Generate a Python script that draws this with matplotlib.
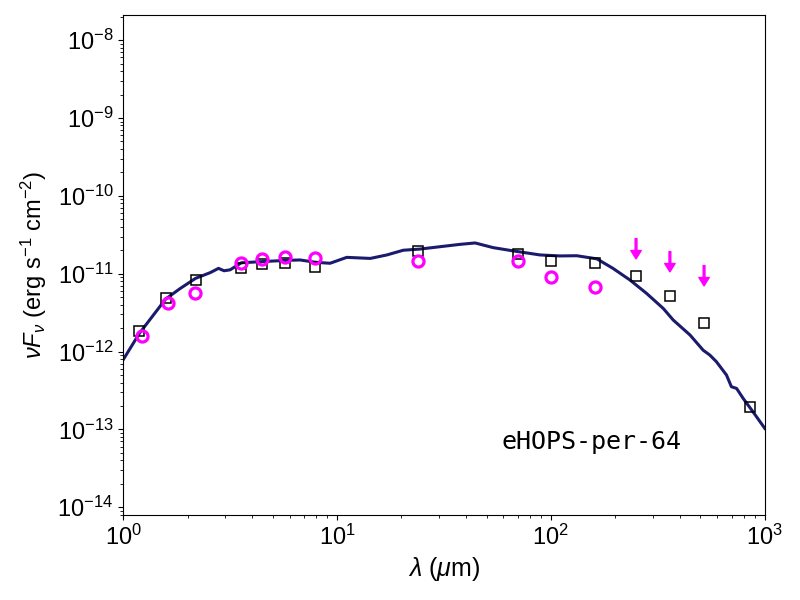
import numpy as np
import matplotlib
matplotlib.use("Agg")
import matplotlib.pyplot as plt

plt.rcParams['font.family'] = ['Liberation Sans', 'DejaVu Sans']
plt.rcParams['mathtext.fontset'] = 'custom'
plt.rcParams['mathtext.rm'] = 'Liberation Sans'
plt.rcParams['mathtext.it'] = 'Liberation Sans:italic'
plt.rcParams['mathtext.bf'] = 'Liberation Sans:bold'

# Model SED (wavelength in micron, nuFnu in erg/s/cm2)
model_lam = [1.0, 1.19, 1.58, 1.85, 2.18, 2.55, 2.79, 2.96, 3.16, 3.57, 4.48, 5.73,
             6.71, 7.93, 9.27, 11.1, 14.3, 17.1, 20.4, 24.4, 30.3, 37.6, 44.2, 53.7,
             66.7, 88.9, 110, 132, 164, 195, 234, 280, 335, 373, 447, 515, 553, 594,
             662, 698, 738, 793, 881, 1000]
model_flux = [7.85e-13, 1.71e-12, 4.73e-12, 6.47e-12, 8.71e-12, 1.03e-11, 1.17e-11,
              1.09e-11, 1.12e-11, 1.38e-11, 1.43e-11, 1.48e-11, 1.50e-11, 1.40e-11,
              1.36e-11, 1.62e-11, 1.57e-11, 1.74e-11, 2.00e-11, 2.07e-11, 2.22e-11,
              2.38e-11, 2.48e-11, 2.16e-11, 1.96e-11, 1.74e-11, 1.69e-11, 1.70e-11,
              1.55e-11, 1.17e-11, 8.30e-12, 5.58e-12, 3.58e-12, 2.54e-12, 1.63e-12,
              1.04e-12, 9.02e-13, 7.40e-13, 4.99e-13, 3.53e-13, 3.36e-13, 2.49e-13,
              1.68e-13, 1.03e-13]

# Model photometry (open squares)
sq_lam = [1.19, 1.58, 2.18, 3.57, 4.48, 5.73, 7.92, 24.0, 70, 100, 160, 250, 360, 520, 850]
sq_flux = [1.83e-12, 4.8e-12, 8.3e-12, 1.19e-11, 1.33e-11, 1.38e-11, 1.22e-11, 1.96e-11,
           1.79e-11, 1.47e-11, 1.37e-11, 9.4e-12, 5.17e-12, 2.32e-12, 1.94e-13]

# Observed photometry (magenta circles)
obs_lam = [1.23, 1.62, 2.17, 3.57, 4.48, 5.73, 7.92, 24.0, 70, 100, 160]
obs_flux = [1.56e-12, 4.15e-12, 5.58e-12, 1.37e-11, 1.53e-11, 1.62e-11, 1.61e-11,
            1.46e-11, 1.44e-11, 9.07e-12, 6.75e-12]

# Upper limits
ul_lam = [250, 360, 520]
ul_flux = [2.82e-11, 1.92e-11, 1.27e-11]

fig = plt.figure(figsize=(8, 6), dpi=100)
ax = fig.add_axes([0.154, 0.142, 0.802, 0.833])

ax.plot(model_lam, model_flux, color='#1b1b6e', lw=2.2, zorder=2)
ax.plot(sq_lam, sq_flux, ls='none', marker='s', ms=6.5, mfc='none', mec='black',
        mew=1.1, zorder=3)
ax.plot(obs_lam, obs_flux, ls='none', marker='o', ms=8, mfc='none', mec='magenta',
        mew=2.3, zorder=4)
for lam, f in zip(ul_lam, ul_flux):
    ax.annotate('', xy=(lam, f * 10**-0.26), xytext=(lam, f),
                arrowprops=dict(facecolor='magenta', edgecolor='magenta',
                                width=1.3, headwidth=7.5, headlength=6, shrink=0))

ax.set_xscale('log')
ax.set_yscale('log')
ax.set_xlim(1, 1000)
ax.set_ylim(8e-15, 2.1e-8)
ax.tick_params(labelsize=17)
ax.set_xlabel(r'$\lambda$ ($\mu$m)', fontsize=18)
ax.set_ylabel(r'$\nu F_\nu$ (erg s$^{-1}$ cm$^{-2}$)', fontsize=17, labelpad=6)
ax.text(0.59, 0.145, 'eHOPS-per-64', transform=ax.transAxes, fontsize=18,
        family='DejaVu Sans Mono', va='center', ha='left')

fig.savefig('out.png', dpi=100)
